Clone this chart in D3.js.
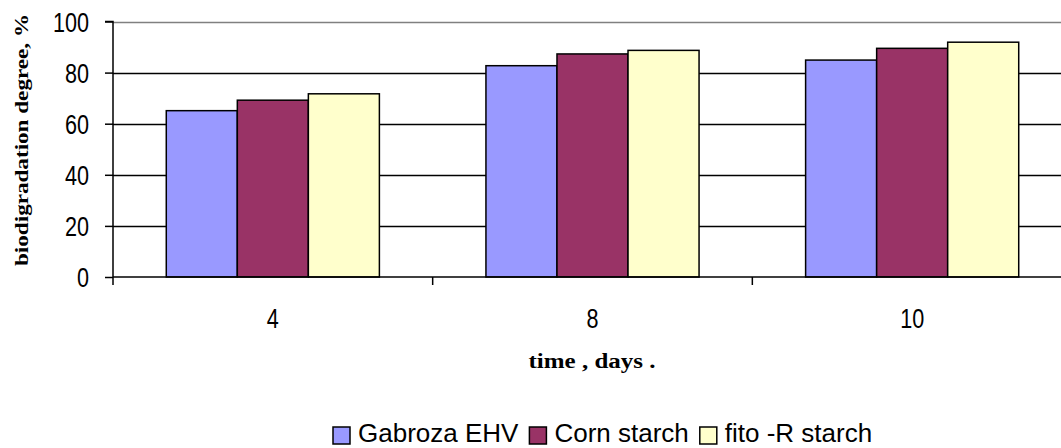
<!DOCTYPE html>
<html><head><meta charset="utf-8">
<script src="https://cdn.jsdelivr.net/npm/d3@7"></script>
<style>body{margin:0;background:#fff}svg{display:block}</style>
</head><body>
<svg id="c" width="1061" height="448"></svg>
<script>
const categories = ["4", "8", "10"];
const seriesNames = ["Gabroza EHV", "Corn starch", "fito -R starch"];
const gabroza = [65.1, 82.7, 84.9];
const corn = [69.2, 87.3, 89.5];
const fito = [71.7, 88.7, 91.9];
const yTicks = [0, 20, 40, 60, 80, 100];
const colors = ["#9999FF", "#993366", "#FFFFCC"];
const seriesValues = [gabroza, corn, fito];

(function () {
const svg = d3.select("#c");
const pLeft = 113, pRight = 1072, pTop = 21.5, pBottom = 277;
const x0 = d3.scaleBand().domain(categories).range([pLeft, pRight]).paddingInner(0).paddingOuter(0);
const x1 = d3.scaleBand().domain(seriesNames).range([0, x0.bandwidth()]).paddingInner(0).paddingOuter(0.75);
const y = d3.scaleLinear().domain([0, 100]).range([pBottom, pTop]);
const sans = "Liberation Sans, Arial, sans-serif";
const condense = sel => sel.each(function () {
  const len = this.getComputedTextLength();
  d3.select(this).attr("textLength", len * 0.8).attr("lengthAdjust", "spacingAndGlyphs");
});

// gridlines
svg.append("g").selectAll("line").data(yTicks.filter(d => d > 0)).join("line")
  .attr("x1", pLeft).attr("x2", 1061)
  .attr("y1", d => Math.round(y(d)) + 0.5).attr("y2", d => Math.round(y(d)) + 0.5)
  .attr("stroke", d => d === 100 ? "#808080" : "#000").attr("stroke-width", 1.5);

// bars
const groups = svg.append("g").selectAll("g").data(categories).join("g")
  .attr("transform", d => `translate(${x0(d)},0)`);
groups.selectAll("rect").data((c, i) => seriesNames.map((s, j) => ({s, j, v: seriesValues[j][i]}))).join("rect")
  .attr("x", d => x1(d.s)).attr("width", x1.bandwidth())
  .attr("y", d => y(d.v)).attr("height", d => y(0) - y(d.v))
  .attr("fill", d => colors[d.j]).attr("stroke", "#000").attr("stroke-width", 1.5);

// y axis
const yAxis = svg.append("g").attr("transform", `translate(${pLeft},0)`)
  .call(d3.axisLeft(y).tickValues(yTicks).tickSize(8).tickPadding(16));
yAxis.select(".domain").attr("stroke", "#000").attr("stroke-width", 1.5).attr("d", `M-8,${y(100)}H0V${pBottom + 8}`);
yAxis.selectAll(".tick line").attr("stroke", "#000").attr("stroke-width", 1.5);
yAxis.selectAll("text").attr("font-family", sans).attr("font-size", 27).attr("fill", "#000")
  .attr("dy", "0.36em").call(condense);

// x axis
const xAxis = svg.append("g").attr("transform", `translate(0,${pBottom})`)
  .call(d3.axisBottom(x0).tickSize(0));
xAxis.select(".domain").attr("stroke", "#000").attr("stroke-width", 1.5).attr("d", `M${pLeft},0H1061`);
xAxis.selectAll("text").attr("font-family", sans).attr("font-size", 27).attr("fill", "#000")
  .attr("dy", null).attr("y", 51).call(condense);
svg.append("g").selectAll("line").data(categories.slice(1)).join("line")
  .attr("x1", d => x0(d)).attr("x2", d => x0(d)).attr("y1", pBottom).attr("y2", pBottom + 8)
  .attr("stroke", "#000").attr("stroke-width", 1.5);

// axis titles
svg.append("text").attr("x", 592).attr("y", 368).attr("text-anchor", "middle")
  .attr("font-family", "Liberation Serif, Times New Roman, serif").attr("font-weight", "bold").attr("font-size", 20)
  .attr("textLength", 127).attr("lengthAdjust", "spacingAndGlyphs")
  .text("time , days .");
svg.append("text").attr("transform", "translate(28,140) rotate(-90)").attr("text-anchor", "middle")
  .attr("font-family", "Liberation Serif, Times New Roman, serif").attr("font-weight", "bold").attr("font-size", 18)
  .attr("textLength", 252).attr("lengthAdjust", "spacingAndGlyphs")
  .text("biodigradation degree, %");

// legend
const leg = svg.append("g");
let lx = 333;
const ly = 442;
seriesNames.forEach((s, j) => {
  leg.append("rect").attr("x", lx).attr("y", ly - 15).attr("width", 17).attr("height", 17)
    .attr("fill", colors[j]).attr("stroke", "#000").attr("stroke-width", 1.5);
  const t = leg.append("text").attr("x", lx + 25).attr("y", ly)
    .attr("font-family", sans).attr("font-size", 26).attr("fill", "#000").text(s);
  lx += 25 + t.node().getComputedTextLength() + 11;
});
})();
</script>
</body></html>
